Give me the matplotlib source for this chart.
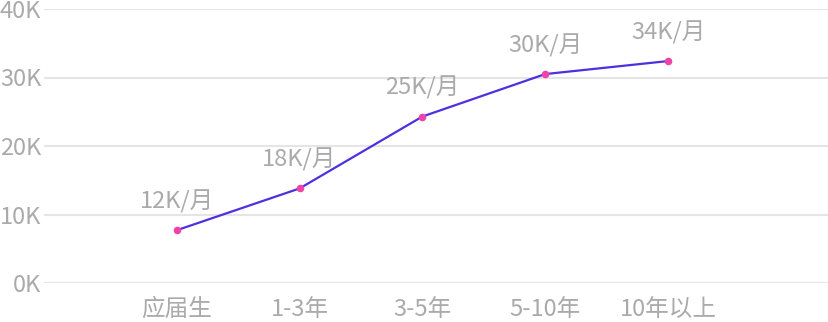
import matplotlib
matplotlib.use('Agg')
import matplotlib.pyplot as plt

plt.rcParams['font.family'] = ['Noto Sans CJK SC', 'DejaVu Sans']

categories = ['应届生', '1-3年', '3-5年', '5-10年', '10年以上']
salary = [7700, 13800, 24300, 30500, 32400]
point_labels = ['12K/月', '18K/月', '25K/月', '30K/月', '34K/月']
y_ticks = [0, 10000, 20000, 30000, 40000]
y_tick_labels = ['0K', '10K', '20K', '30K', '40K']

W, H = 829, 322
fig = plt.figure(figsize=(W / 100, H / 100), dpi=100)
ax = fig.add_axes([44 / W, (H - 283) / H, (W - 44) / W, (283 - 9) / H])

text_color = '#aaaaaa'
x = list(range(len(categories)))

ax.plot(x, salary, color='#4f2fe0', linewidth=1.6, zorder=3)
ax.scatter(x, salary, s=30, color='#ee44aa', zorder=4, linewidths=0)

for xi, yi, lab in zip(x, salary, point_labels):
    ax.annotate(lab, (xi, yi), xytext=(0, 12), textcoords='offset points',
                ha='center', va='bottom', fontsize=17, color=text_color,
                fontweight='light')

ax.set_xlim(-1.08, 5.31)
ax.set_ylim(0, 40000)
ax.set_yticks(y_ticks)
ax.set_yticklabels(y_tick_labels, fontweight='light')
ax.set_xticks(x)
ax.set_xticklabels(categories, fontweight='light')

ax.grid(axis='y', color='#e5e5e5', linewidth=1.5)
ax.set_axisbelow(True)
for s in ax.spines.values():
    s.set_visible(False)
ax.tick_params(axis='both', length=0, labelsize=17, labelcolor=text_color)
ax.tick_params(axis='y', pad=2)
ax.tick_params(axis='x', pad=11)

fig.savefig('out.png', dpi=100)
